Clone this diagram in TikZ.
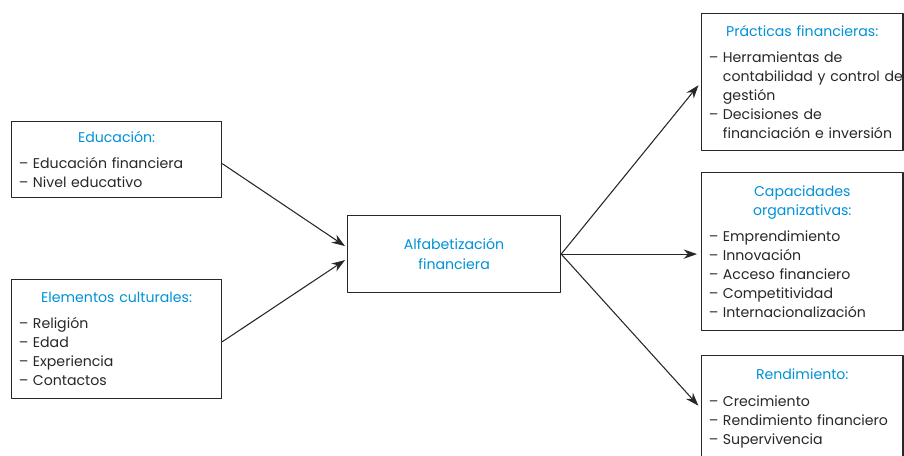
\documentclass[tikz,border=0pt]{standalone}
\usepackage{fontspec}
\setmainfont{Poppins}
\usetikzlibrary{arrows.meta}
\definecolor{titleblue}{RGB}{0,145,215}
\definecolor{bodygray}{RGB}{40,38,40}
\newcommand{\boxtitle}[1]{{\centering\color{titleblue}#1\par}\vspace{5.5pt}}
\newcommand{\itm}[1]{\par\hangindent=10.5pt\hangafter=1\noindent\makebox[10.5pt][l]{–}#1\par}
\tikzset{
  factor/.style={draw=bodygray, line width=0.9pt, anchor=north west, text=bodygray,
    inner xsep=5.5pt, inner ysep=0pt, align=left,
    font=\fontsize{10.6}{14.25}\selectfont},
  link/.style={draw=bodygray, line width=0.8pt, -{Stealth[length=10pt,width=7pt]}}
}
\begin{document}
\begin{tikzpicture}[x=0.75pt, y=-0.75pt, line join=round]
  \useasboundingbox (0,0) rectangle (904,455);
  % factores de entrada
  \node[factor, text width=146.5pt, minimum height=57pt] (edu) at (11,121)
    {\boxtitle{Educación:}\raggedright
     \itm{Educación financiera}\itm{Nivel educativo}};
  \node[factor, text width=146.5pt, minimum height=89.25pt] (cult) at (11,279)
    {\boxtitle{Elementos culturales:}\raggedright
     \itm{Religión}\itm{Edad}\itm{Experiencia}\itm{Contactos}};
  % nodo central
  \node[draw=bodygray, line width=0.9pt, minimum width=159.75pt, minimum height=57.75pt,
    anchor=north west, align=center, text=titleblue,
    font=\fontsize{10.6}{15}\selectfont] (alf) at (347,215)
    {Alfabetización\\financiera};
  % resultados
  \node[factor, text width=140pt, minimum height=102.75pt] (prac) at (701,13)
    {\boxtitle{Prácticas financieras:}\raggedright
     \itm{\mbox{Herramientas de}\newline\mbox{contabilidad y control de}\newline gestión}
     \itm{\mbox{Decisiones de}\newline\mbox{financiación e inversión}}};
  \node[factor, text width=140pt, minimum height=118.5pt] (cap) at (701,172)
    {\boxtitle{Capacidades\par organizativas:}\raggedright
     \itm{Emprendimiento}\itm{Innovación}\itm{Acceso financiero}
     \itm{Competitividad}\itm{Internacionalización}};
  \node[factor, text width=140pt, minimum height=79.5pt] (rend) at (701,355)
    {\boxtitle{Rendimiento:}\raggedright
     \itm{Crecimiento}\itm{Rendimiento financiero}\itm{Supervivencia}};
  % flechas
  \draw[link] ([yshift=-3pt]edu.east) -- ([xshift=-1.5pt,yshift=6pt]alf.west);
  \draw[link] ([yshift=-2pt]cult.east) -- ([xshift=-1.5pt,yshift=-4.5pt]alf.west);
  \draw[link, shorten >=3pt] (alf.east) -- (prac.west);
  \draw[link, shorten >=3pt] (alf.east) -- (alf.east -| cap.west);
  \draw[link, shorten >=3pt] (alf.east) -- (rend.west);
\end{tikzpicture}
\end{document}
